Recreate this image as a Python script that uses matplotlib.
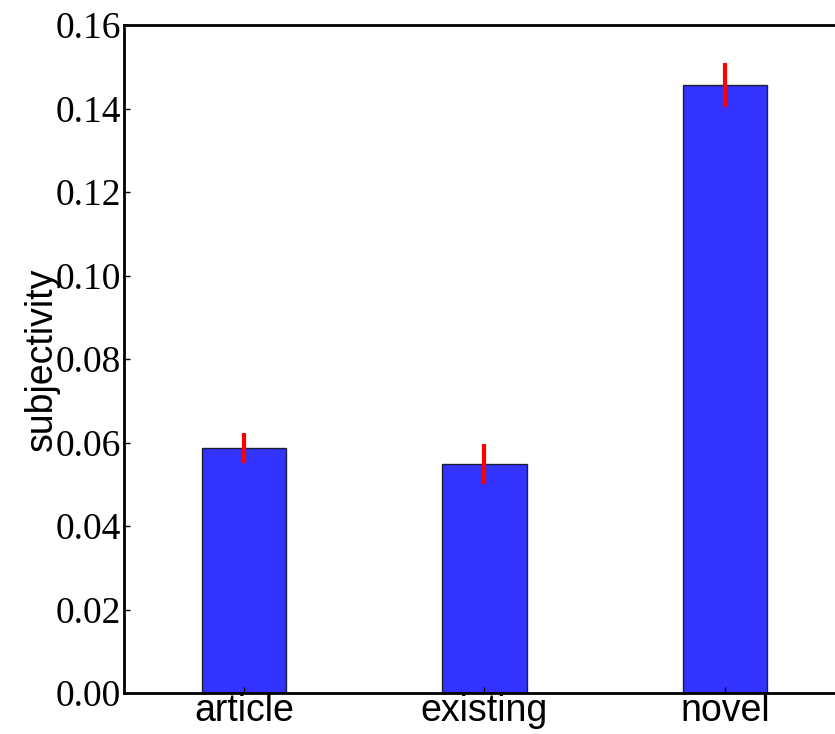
import matplotlib
matplotlib.use("Agg")
import matplotlib.pyplot as plt
import numpy as np

categories = ["article", "existing", "novel"]
values = [0.0587, 0.0549, 0.1456]
errors = [0.0035, 0.0048, 0.0052]
yticks = [0.00, 0.02, 0.04, 0.06, 0.08, 0.10, 0.12, 0.14, 0.16]

fig = plt.figure(figsize=(8.35, 7.34), dpi=100)
# right spine falls just outside the figure, as in the reference
ax = fig.add_axes([124/835, 41/734, 721/835, 668/734])

idx = np.arange(len(categories))
ax.bar(idx, values, 0.35, color="blue", alpha=0.8, edgecolor="black", linewidth=1)
ax.errorbar(idx, values, yerr=errors, fmt="none", ecolor="red", elinewidth=3, capsize=0)

ax.set_xlim(-0.5, 2.5)
ax.set_ylim(0, 0.16)
ax.set_yticks(yticks)
ax.set_yticklabels(["%.2f" % t for t in yticks], family="Liberation Serif", fontsize=27)
ax.set_xticks(idx)
ax.set_xticklabels(categories, family="Liberation Sans", fontsize=27)
ax.set_ylabel("subjectivity", family="Liberation Sans", fontsize=27, labelpad=-3)
ax.tick_params(direction="in", length=4, width=1, pad=2)
ax.tick_params(axis="x", pad=0)
for s in ax.spines.values():
    s.set_linewidth(2)

fig.savefig("out.png", dpi=100)
